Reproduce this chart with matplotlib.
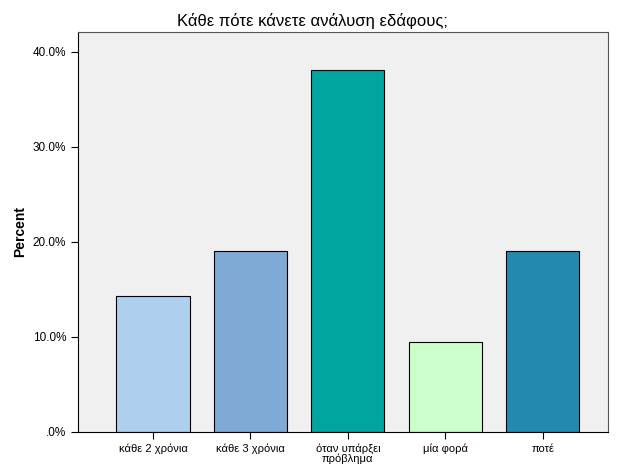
import matplotlib
matplotlib.use('Agg')
import matplotlib.pyplot as plt
from matplotlib.ticker import FuncFormatter

plt.rcParams['font.family'] = ['Liberation Sans', 'DejaVu Sans']

categories = ['κάθε 2 χρόνια', 'κάθε 3 χρόνια', 'όταν υπάρξει\nπρόβλημα', 'μία φορά', 'ποτέ']
percents = [14.3, 19.0, 38.1, 9.5, 19.0]
colors = ['#aecfee', '#7faad6', '#00a5a0', '#ccffcc', '#2489ae']

fig = plt.figure(figsize=(6.25, 4.69), dpi=100)
ax = fig.add_axes([0.1248, 0.0789, 0.848, 0.853])
ax.set_facecolor('#f0f0f0')

x = range(len(categories))
ax.bar(x, percents, width=0.75, color=colors, edgecolor='black', linewidth=0.8)

ax.set_xlim(-0.77, 4.67)
ax.set_ylim(0, 42.1)
ax.set_yticks([0, 10, 20, 30, 40])
ax.yaxis.set_major_formatter(FuncFormatter(lambda v, p: '.0%' if v == 0 else f'{v:.1f}%'))
ax.set_xticks(list(x))
ax.set_xticklabels(categories, fontsize=8, linespacing=0.9)
ax.tick_params(axis='y', labelsize=8.5, length=5, direction='out')
ax.tick_params(axis='x', length=5, direction='out')

ax.set_ylabel('Percent', fontsize=10, fontweight='bold')
fig.text(0.5, 0.955, 'Κάθε πότε κάνετε ανάλυση εδάφους;', ha='center', va='center', fontsize=12)

for s in ax.spines.values():
    s.set_color('#555555')
ax.spines['left'].set_color('black')
ax.spines['bottom'].set_color('black')

fig.savefig('out.png', dpi=100)
